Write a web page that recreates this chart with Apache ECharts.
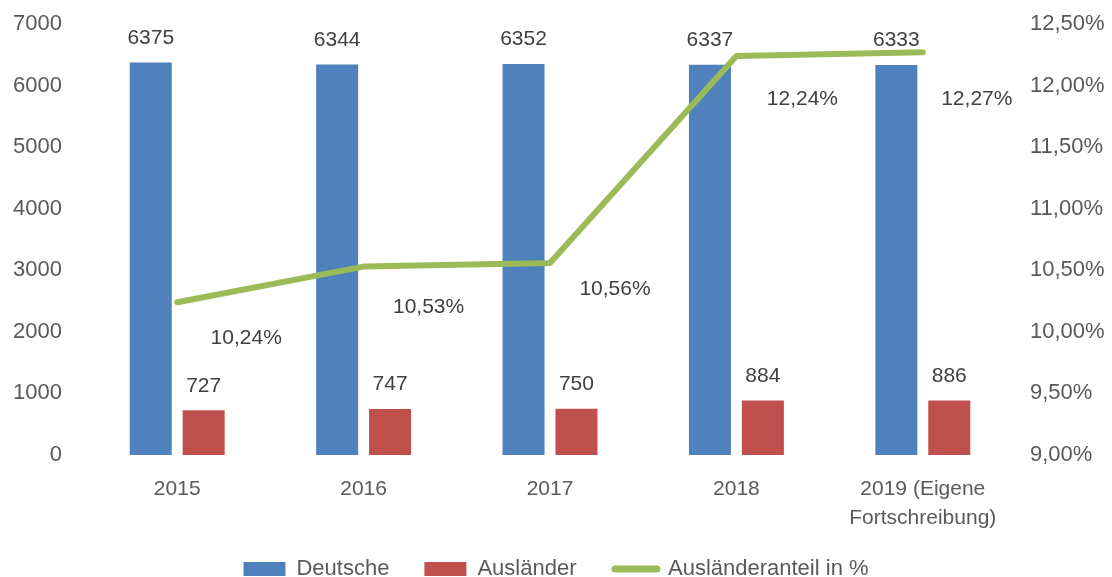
<!DOCTYPE html>
<html>
<head>
<meta charset="utf-8">
<script src="https://cdn.jsdelivr.net/npm/echarts@6/dist/echarts.min.js"></script>
<style>
  html, body { margin: 0; padding: 0; background: #fff; }
  #chart { width: 1112px; height: 577px; }
</style>
</head>
<body>
<div id="chart"></div>
<script>
  var categories = ['2015', '2016', '2017', '2018', '2019 (Eigene\nFortschreibung)'];
  var deutsche = [6375, 6344, 6352, 6337, 6333];
  var auslaender = [727, 747, 750, 884, 886];
  var anteil = [10.24, 10.53, 10.56, 12.24, 12.27];
  // label nudges for the percentage labels (as placed in the original)
  var pctLabelOffsets = [[69, 19], [65, 24], [65, 10], [66, 27], [54, 30]];

  var font = 'Liberation Sans';
  var fmtPct = function (v) { return v.toFixed(2).replace('.', ',') + '%'; };

  var chart = echarts.init(document.getElementById('chart'));

  var option = {
    animation: false,
    textStyle: { fontFamily: font },
    grid: { left: 84, right: 96, top: 24, bottom: 122 },
    legend: {
      top: 553,
      left: 'center',
      itemWidth: 42,
      itemHeight: 14,
      itemGap: 35,
      textStyle: { fontSize: 22, color: '#595959', fontFamily: font, padding: [0, 0, 0, 6] },
      data: [
        { name: 'Deutsche', icon: 'rect' },
        { name: 'Ausländer', icon: 'rect' },
        {
          name: 'Ausländeranteil in %',
          itemStyle: { opacity: 0 },
          lineStyle: { width: 7, cap: 'round', color: '#9bbb59' }
        }
      ]
    },
    xAxis: {
      type: 'category',
      data: categories,
      axisLine: { show: false },
      axisTick: { show: false },
      axisLabel: { interval: 0, fontSize: 21, color: '#595959', margin: 20, lineHeight: 29 }
    },
    yAxis: [
      {
        type: 'value',
        min: 0, max: 7000, interval: 1000,
        splitLine: { show: false },
        axisLabel: { fontSize: 22, color: '#595959', margin: 22, formatter: function (v) { return String(v); } }
      },
      {
        type: 'value',
        min: 9, max: 12.5, interval: 0.5,
        splitLine: { show: false },
        axisLabel: { fontSize: 22, color: '#595959', margin: 14, formatter: fmtPct }
      }
    ],
    series: [
      {
        name: 'Deutsche',
        type: 'bar',
        data: deutsche,
        barWidth: 42,
        barGap: '26%',
        itemStyle: { color: '#4f81bd' },
        label: { show: true, position: 'top', distance: 14, fontSize: 21, color: '#404040' }
      },
      {
        name: 'Ausländer',
        type: 'bar',
        data: auslaender,
        barWidth: 42,
        itemStyle: { color: '#c0504d' },
        label: { show: true, position: 'top', distance: 14, fontSize: 21, color: '#404040' }
      },
      {
        name: 'Ausländeranteil in %',
        type: 'line',
        yAxisIndex: 1,
        data: anteil.map(function (v, i) {
          return { value: v, label: { offset: pctLabelOffsets[i] } };
        }),
        symbol: 'circle',
        symbolSize: 2,
        showSymbol: true,
        z: 5,
        lineStyle: { color: '#9bbb59', width: 6, cap: 'round', join: 'round' },
        itemStyle: { color: '#9bbb59' },
        label: {
          show: true, position: 'bottom',
          fontSize: 21, color: '#404040',
          formatter: function (p) { return fmtPct(p.value); }
        }
      }
    ]
  };

  chart.setOption(option);
</script>
</body>
</html>
